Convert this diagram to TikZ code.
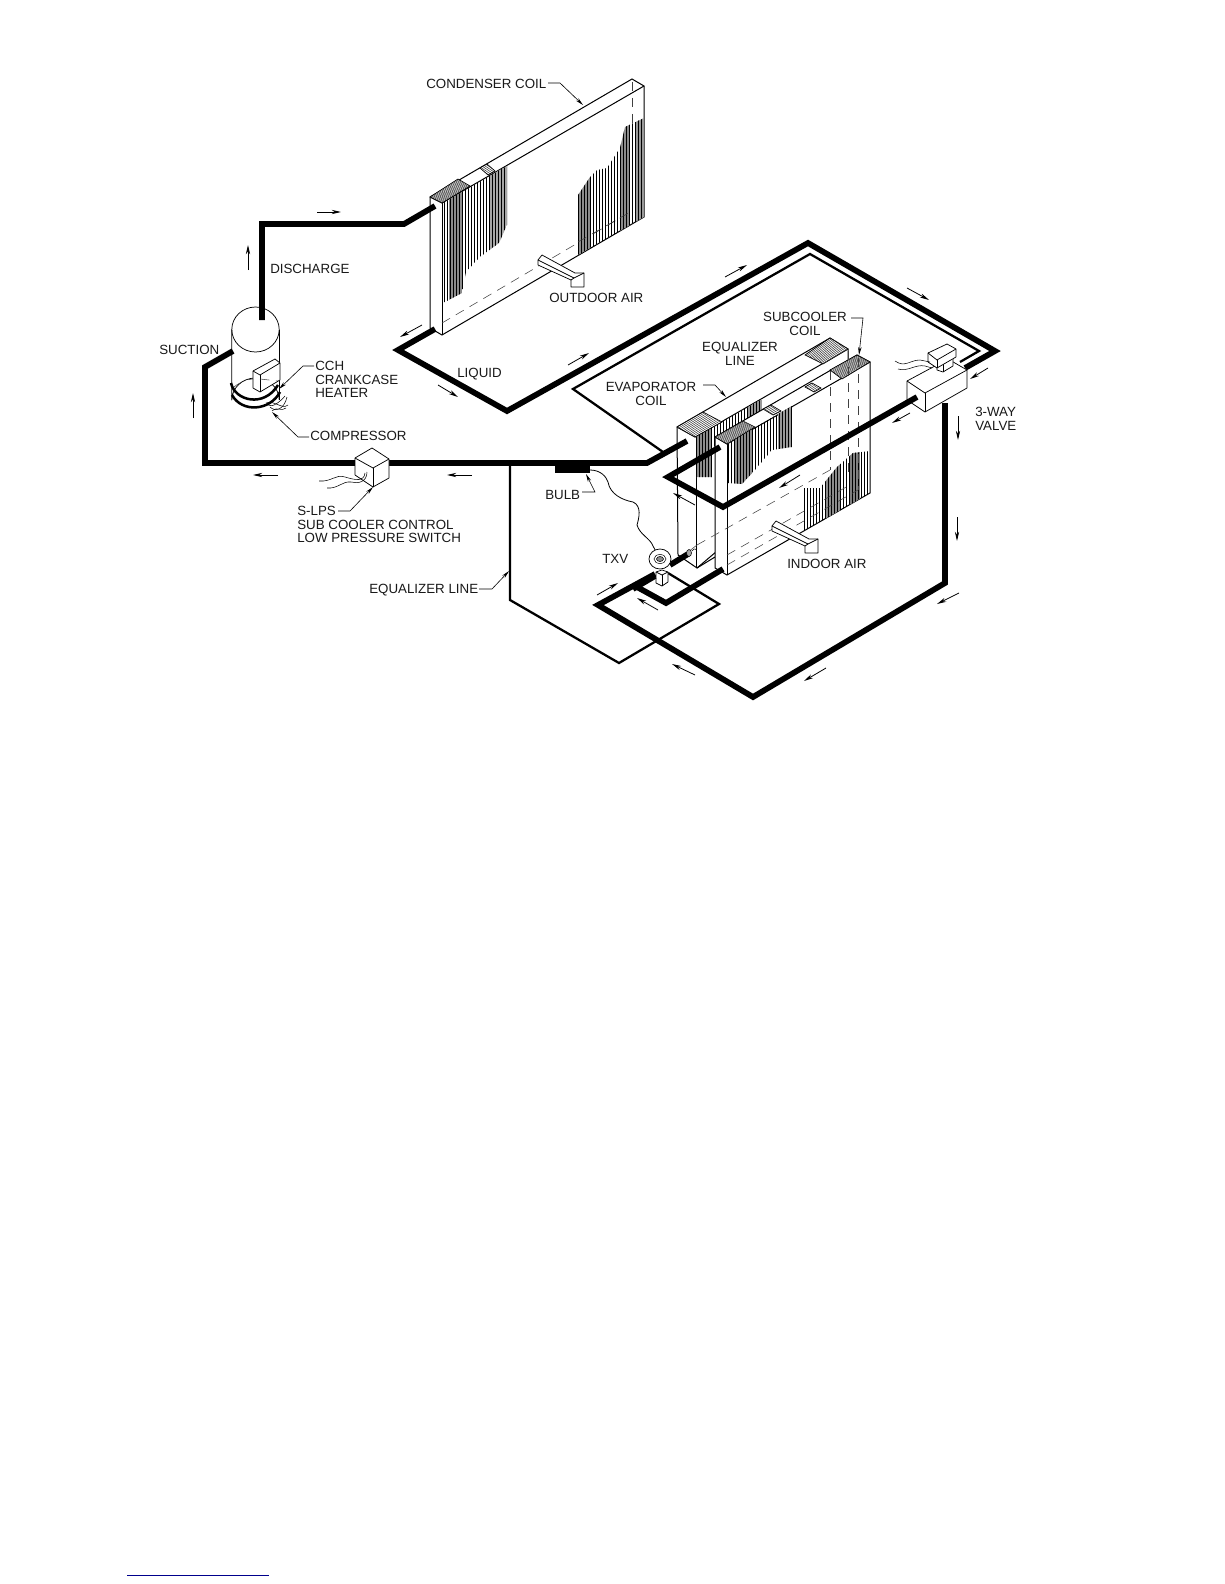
\documentclass[tikz,border=0pt]{standalone}
\usepackage{fontspec}
\setmainfont{Liberation Sans}
\usetikzlibrary{arrows.meta,calc}
\tikzset{
  lab/.style={font=\fontsize{10}{10.2}\selectfont,inner sep=0pt,align=left,text=black!90,yshift=-0.8pt},
  pipe/.style={line width=4.3pt,line join=miter,line cap=butt},
  eqline/.style={line width=1.7pt,line join=miter},
  flow/.style={line width=0.6pt,-{Stealth[length=7pt,width=3.2pt]}},
  leader/.style={line width=0.45pt,-{Stealth[length=6pt,width=2.6pt]}},
  thin box/.style={line width=0.55pt,line join=round},
  hatchface/.style={line width=0.5pt,fill=white},
  coiledge/.style={line width=0.75pt},
  dashline/.style={line width=0.4pt,black!75,dash pattern=on 7pt off 5pt},
  wire/.style={line width=0.4pt},
}
\newcommand{\finsregion}[5]{%
  \begin{scope}
    \clip #1 -- cycle;
    #5
    \foreach \xx in {#2,#3,...,#4} \draw[line width=0.72pt,black] (\xx,0) -- (\xx,1000);
  \end{scope}}
\newcommand{\hatchpar}[5]{%
  \draw[hatchface] #1 -- #2 -- #3 -- #4 -- cycle;
  \begin{scope}
    \clip #1 -- #2 -- #3 -- #4 -- cycle;
    \foreach \t in {0,#5,...,1} \draw[line width=0.25pt]
      ($#1!\t!#2$) -- ($#4!\t!#3$);
  \end{scope}}
\newcommand{\airarrow}[2]{%
  \begin{scope}[shift={(#1,#2)}]
    \draw[thin box,fill=white] (0,0) -- (4,-5) -- (37,13) -- (46,13) -- (46,27) -- (33,27) -- (33,20) -- (0,5) -- cycle;
    \draw[thin box] (0,0) -- (36,18) -- (46,13);
    \draw[thin box] (33,20) -- (36,18);
  \end{scope}}
\begin{document}
\begin{tikzpicture}[x=0.75pt,y=-0.75pt]
\useasboundingbox (0,0) rectangle (1224,1584);
\fill[white] (0,0) rectangle (1224,1584);

% ---------- condenser coil
\draw[coiledge,fill=white] (430,197) -- (632,79) -- (644,86) -- (644,217) -- (442,335) -- (430,328) -- cycle;
\draw[coiledge] (430,197) -- (442,203) -- (644,86);
\draw[coiledge] (442,203) -- (442,335);
\draw[dashline] (442,323) -- (632,211) -- (644,217);
\draw[dashline] (632,82) -- (632,211);
\finsregion{(443,203) -- (507,166) -- (507,225) -- (499,243) -- (480,257) -- (466,272) -- (462,293) -- (443,303)}{444}{447}{507}{\fill[black!45] (449,150) rectangle (462,310); \fill[black!35] (490,150) rectangle (507,250);}
\finsregion{(578,195) -- (590,177) -- (597,170) -- (607,168) -- (620,148) -- (625,127) -- (644,118) -- (644,217) -- (578,255)}{578}{581}{644}{\fill[black!45] (578,110) rectangle (590,260); \fill[black!45] (620,110) rectangle (630,260); \fill[black!40] (636,110) rectangle (644,260);}
\draw[dashline] (578,242) -- (632,211);
\hatchpar{(430,197)}{(442,203)}{(470,186)}{(458,179)}{0.09}
\hatchpar{(480,168)}{(488,175)}{(495,171)}{(487,164)}{0.16}

% ---------- evaporator coil
\draw[coiledge,fill=white] (677,427) -- (830,338) -- (848,349) -- (848,440) -- (697,568) -- (678,555) -- cycle;
\draw[coiledge] (677,427) -- (695,437) -- (848,349);
\draw[coiledge] (696,437) -- (696,568);
\draw[coiledge] (697,568) -- (715,557);
\finsregion{(696,437) -- (762,399) -- (762,420) -- (714,447) -- (714,477) -- (696,477)}{696}{699}{762}{\fill[black!45] (696,420) rectangle (712,480); \fill[black!40] (748,380) rectangle (762,425);}
\hatchpar{(677,427)}{(695,437)}{(722,422)}{(703,412)}{0.09}
\hatchpar{(805,355)}{(823,364)}{(848,349)}{(830,338)}{0.08}

% ---------- subcooler coil
\draw[coiledge,fill=white] (715,437) -- (857,355) -- (870,362) -- (870,493) -- (727,575) -- (715,568) -- cycle;
\draw[coiledge] (715,437) -- (727,444) -- (870,362);
\draw[coiledge] (727,444) -- (727,575);
\finsregion{(728,443) -- (792,406) -- (792,447) -- (772,450) -- (755,470) -- (742,484) -- (728,483)}{728}{731}{792}{\fill[black!45] (734,400) rectangle (752,490);\fill[black!40] (778,400) rectangle (792,450);}
\finsregion{(804,488) -- (820,488) -- (837,467) -- (853,453) -- (870,451) -- (870,493) -- (804,531)}{804}{807}{870}{\fill[black!45] (826,440) rectangle (840,530); \fill[black!50] (850,440) rectangle (860,530);}
\hatchpar{(715,437)}{(727,444)}{(755,427)}{(743,421)}{0.09}
\hatchpar{(763,409)}{(773,415)}{(781,411)}{(771,405)}{0.16}
\hatchpar{(805,387)}{(814,392)}{(821,388)}{(812,383)}{0.18}
\hatchpar{(830,370)}{(842,379)}{(870,362)}{(857,355)}{0.08}
\draw[dashline] (830,371) -- (830,470);
\draw[dashline] (848,351) -- (848,473);
\draw[dashline] (858,358) -- (858,490);
\draw[dashline] (697,545) -- (830,470);
\draw[dashline] (727,555) -- (848,486);
\draw[dashline] (727,565) -- (858,490);
\draw[dashline] (697,545) -- (688,552);

% ---------- thin lines
\coordinate (e1) at (663,452);
\coordinate (e2) at (573,389);
\coordinate (e3) at (810,254);
\coordinate (e4) at (979,351);
\coordinate (e5) at (960,362);
\draw[eqline] (e1) -- (e2) -- (e3) -- (e4) -- (e5);
\coordinate (q1) at (510,463);
\coordinate (q2) at (510,600);
\coordinate (q3) at (619,663);
\coordinate (q4) at (719,604);
\coordinate (q5) at (668,573);
\draw[eqline] (q1) -- (q2) -- (q3) -- (q4) -- (q5);

% ---------- thick pipes
\draw[pipe] (262,320) -- (262,224) -- (404,224) -- (435,206);
\draw[pipe] (233,351) -- (205,367) -- (205,463) -- (647,463) -- (687,441);
\draw[pipe] (435,329) -- (398,350) -- (507,411) -- (808,243) -- (995,351) -- (965,368);
\draw[pipe] (945,403) -- (945,583) -- (753,697) -- (598,605) -- (655,574);
\draw[pipe] (670,565) -- (688,554);
\draw[pipe] (637,587) -- (666,603) -- (723,569);

% ---------- compressor
\draw[thin box] (255.5,329.5) ellipse [x radius=23.7,y radius=22.5];
\draw[thin box] (231.8,329.5) -- (231.8,400) arc [start angle=180,end angle=360,x radius=23.7,y radius=22];
\draw[thin box] (279.2,329.5) -- (279.2,400);
\draw[thin box,fill=white] (253,371) -- (275,359) -- (280,363) -- (280,380) -- (260,392) -- (253,388) -- cycle;
\draw[thin box] (253,371) -- (260,375) -- (280,363);
\draw[thin box] (260,375) -- (260,392);
\draw[dashline] (234,387) .. controls (240,382) and (248,379) .. (253,379);
\draw[dashline] (260,379) -- (278,381);
\draw[line width=1.9pt] (231,383) .. controls (235,401) and (264,408) .. (278,385);
\draw[line width=1.9pt] (232,395) .. controls (242,413) and (270,411) .. (280,392);
\draw[wire] (268,405) .. controls (272,408) and (280,402) .. (285,396);
\draw[wire] (270,407) .. controls (275,412) and (284,410) .. (287,397);
\draw[wire] (266,403) .. controls (275,400) and (282,410) .. (288,405);
\draw[wire] (272,411) .. controls (278,406) and (281,412) .. (286,408);

% ---------- S-LPS box
\draw[thin box,fill=white] (355,458) -- (372,448) -- (389,459) -- (389,478) -- (373,487) -- (355,475) -- cycle;
\draw[thin box] (355,458) -- (373,468) -- (389,459);
\draw[thin box] (373,468) -- (373,487);
\draw[wire] (319,481) .. controls (332,482) and (335,474) .. (345,477) .. controls (355,480) and (364,482) .. (365,473);
\draw[wire] (327,488) .. controls (338,489) and (342,481) .. (351,482) .. controls (358,484) and (367,482) .. (367,472);

% ---------- three-way valve
\draw[thin box,fill=white] (907,381) -- (948,359) -- (967,370) -- (967,388) -- (925,412) -- (907,400) -- cycle;
\draw[thin box] (907,381) -- (925,393) -- (967,370);
\draw[thin box] (925,393) -- (925,412);
\draw[thin box,fill=white] (937,360) -- (950,353) -- (953,355) -- (953,366) -- (943,372) -- (937,370) -- cycle;
\draw[thin box] (943,362) -- (943,372);
\draw[thin box,fill=white] (928,353) -- (947,344) -- (956,349) -- (956,357) -- (937,368) -- (928,362) -- cycle;
\draw[thin box] (928,353) -- (937,360) -- (956,349);
\draw[thin box] (937,360) -- (937,368);
\draw[wire] (895,361) .. controls (905,368) and (910,360) .. (920,360) -- (930,362);
\draw[wire] (898,369) .. controls (908,372) and (915,364) .. (925,366) -- (932,368);
\draw[pipe] (917,397) -- (723,507) -- (668,477) -- (720,447);

% ---------- bulb and TXV
\fill[black] (555,465) rectangle (590,473);
\draw[line width=0.6pt] (590,470) .. controls (600,470) and (606,476) .. (608,482) .. controls (610,494) and (622,500) .. (633,502) .. controls (642,506) and (639,518) .. (637,525) .. controls (640,535) and (650,538) .. (653,546) -- (660,559);
\draw[thin box,fill=white] (656,572) -- (656,583) -- (662,586) -- (668,582) -- (668,572) -- (662,570) -- cycle;
\draw[thin box] (662,575) -- (662,586);
\draw[thin box] (656,572) -- (662,575) -- (668,572);
\draw[thin box,fill=white] (660,559) ellipse [x radius=11,y radius=10];
\draw[wire,fill=black!45] (660,559) ellipse [x radius=3.5,y radius=2.5];
\draw[wire] (660,559) ellipse [x radius=6,y radius=4.5];
\draw[wire,fill=black!35] (689,553) ellipse [x radius=2.5,y radius=3.5];
\draw[wire] (692,551) .. controls (696,546) and (695,552) .. (697,548);
\draw[pipe] (633,589) -- (655,576);

% ---------- air arrows
\airarrow{538}{260}
\airarrow{772}{526}

% ---------- flow arrows
\draw[flow] (317,212) -- (341,212);
\draw[flow] (248,270) -- (248,245);
\draw[flow] (193,418) -- (193,393);
\draw[flow] (278,475) -- (253,475);
\draw[flow] (472,475) -- (447,475);
\draw[flow] (438,385) -- (458,397);
\draw[flow] (568,365) -- (589,353);
\draw[flow] (725,277) -- (747,265);
\draw[flow] (907,288) -- (929,300);
\draw[flow] (988,368) -- (970,379);
\draw[flow] (910,413) -- (892,423);
\draw[flow] (958,416) -- (958,440);
\draw[flow] (957,517) -- (957,541);
\draw[flow] (959,593) -- (937,604);
\draw[flow] (826,668) -- (804,681);
\draw[flow] (695,675) -- (672,664);
\draw[flow] (597,595) -- (618,583);
\draw[flow] (658,610) -- (637,598);
\draw[flow] (695,505) -- (673,493);
\draw[flow] (800,475) -- (779,488);
\draw[flow] (422,325) -- (400,337);

% ---------- labels
\node[lab,anchor=west] (cond) at (426,83) {CONDENSER COIL};
\node[lab,anchor=west] (disch) at (270,268) {DISCHARGE};
\node[lab,anchor=west] (outd) at (549,297) {OUTDOOR AIR};
\node[lab,anchor=west] (suct) at (159,349) {SUCTION};
\node[lab,anchor=west] (liq) at (457,373) {LIQUID};
\node[lab,anchor=north west] (cch) at (315,360) {CCH\\CRANKCASE\\HEATER};
\node[lab,anchor=west] (comp) at (310,435) {COMPRESSOR};
\node[lab,anchor=north west] (slps) at (297,505) {S-LPS\\SUB COOLER CONTROL\\LOW PRESSURE SWITCH};
\node[lab,anchor=west] (eql) at (369,589) {EQUALIZER LINE};
\node[lab,anchor=west] (bulb) at (545,494) {BULB};
\node[lab,anchor=west] (txv) at (602,558) {TXV};
\node[lab,anchor=west] (ind) at (787,563) {INDOOR AIR};
\node[lab,anchor=north,align=center] (evap) at (651,381) {EVAPORATOR\\COIL};
\node[lab,anchor=north,align=center] (equ) at (740,341) {EQUALIZER\\LINE};
\node[lab,anchor=north,align=center] (sub) at (805,311) {SUBCOOLER\\COIL};
\node[lab,anchor=north west] (way) at (975,406) {3-WAY\\VALVE};

% ---------- leaders
\draw[leader] (548,83) -- (560,83) -- (583,105);
\draw[leader] (314,366) -- (303,366) -- (279,389);
\draw[leader] (309,437) -- (298,437) -- (272,412);
\draw[leader] (338,511) -- (350,511) -- (373,487);
\draw[leader] (479,589) -- (492,589) -- (509,571);
\draw[leader] (582,492) -- (595,492) -- (586,474);
\draw[leader] (703,385) -- (715,385) -- (726,397);
\draw[leader] (851,318) -- (863,318) -- (859,355);

% ---------- bottom rule
\draw[line width=0.75pt,color=blue!55!black] (127,1575) -- (269,1575);
\end{tikzpicture}
\end{document}
